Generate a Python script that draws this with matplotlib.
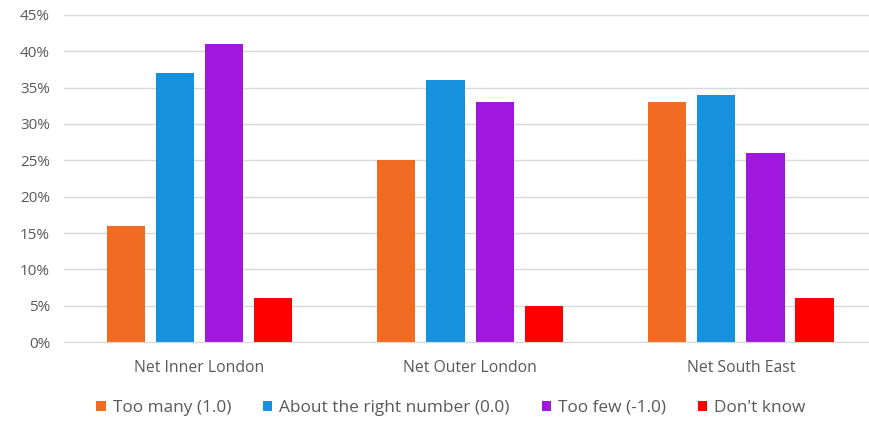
import matplotlib.pyplot as plt
import numpy as np
from matplotlib.ticker import FuncFormatter

categories = ['Net Inner London', 'Net Outer London', 'Net South East']
series = ['Too many (1.0)', 'About the right number (0.0)', 'Too few (-1.0)', "Don't know"]
too_many = [16, 25, 33]
about_right = [37, 36, 34]
too_few = [41, 33, 26]
dont_know = [6, 5, 6]
colors = ['#F26B23', '#1691DD', '#A018DE', '#FF0000']

plt.rcParams['font.family'] = ['Open Sans', 'DejaVu Sans']
grey = '#595959'

fig = plt.figure(figsize=(8.7, 4.25), dpi=100)
ax = fig.add_axes([64 / 870, 0.195, 806 / 870, 0.77])

x = np.arange(len(categories))
step, width = 0.1815, 0.141
for i, (vals, name, col) in enumerate(zip([too_many, about_right, too_few, dont_know], series, colors)):
	ax.bar(x + (i - 1.5) * step, np.array(vals) / 100, width, color=col, label=name, zorder=2)

ax.set_xlim(-0.5, 2.477)
ax.set_ylim(0, 0.45)
ax.set_yticks(np.arange(0, 0.451, 0.05))
ax.yaxis.set_major_formatter(FuncFormatter(lambda v, _: f'{v * 100:.0f}%'))
ax.set_xticks(x, categories)
ax.grid(axis='y', color='#D9D9D9', linewidth=1, zorder=0)
for s in ['top', 'right', 'left']:
	ax.spines[s].set_visible(False)
ax.spines['bottom'].set_color('#D9D9D9')
ax.tick_params(axis='both', length=0, colors=grey)
ax.tick_params(axis='x', pad=13, labelsize=11.3)
ax.tick_params(axis='y', pad=10, labelsize=11)

fig.legend(loc='center', bbox_to_anchor=(451 / 870, 1 - 408 / 425), ncol=4, frameon=False,
	fontsize=12.4, labelcolor=grey, handlelength=0.55, handleheight=0.55, handletextpad=0.4,
	columnspacing=1.85)
fig.savefig('out.png', dpi=100)
